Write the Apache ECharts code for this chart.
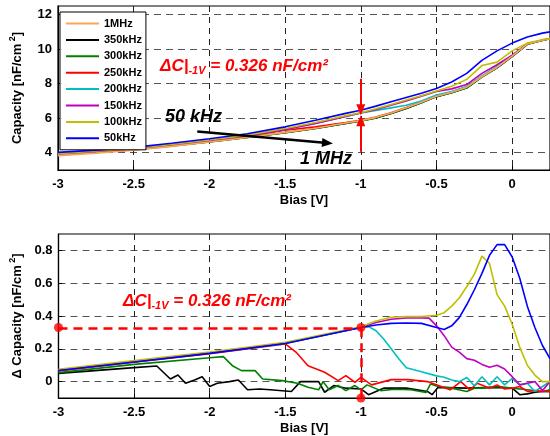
<!DOCTYPE html>
<html><head><meta charset="utf-8">
<script src="https://cdn.jsdelivr.net/npm/echarts@6/dist/echarts.min.js"></script>
<style>html,body{margin:0;padding:0;background:#fff}#c{width:550px;height:436px}</style>
</head><body><div id="c"></div>
<script>
// ---------- DATA ----------
const seriesNames = ['1MHz','350kHz','300kHz','250kHz','200kHz','150kHz','100kHz','50kHz'];
const xTicks = [-3,-2.5,-2,-1.5,-1,-0.5,0];
const yTicksTop = [4,6,8,10,12];
const yTicksBottom = [0,0.2,0.4,0.6,0.8];

// top chart: capacity vs bias
const topBias = [-3,-2.75,-2.5,-2.25,-2,-1.75,-1.5,-1.3,-1.1,-1,-0.9,-0.8,-0.7,-0.6,-0.5,-0.4,-0.3,-0.2,-0.1,0,0.1,0.2,0.25];
const cap1MHz  = [3.83,3.98,4.14,4.37,4.62,4.88,5.18,5.42,5.72,5.86,6.05,6.30,6.60,6.92,7.27,7.50,7.80,8.40,8.95,9.60,10.30,10.52,10.60];
const cap350k  = [3.86,4.01,4.17,4.39,4.63,4.88,5.16,5.40,5.70,5.84,6.02,6.27,6.56,6.90,7.25,7.47,7.76,8.38,8.92,9.57,10.28,10.52,10.60];
const cap300k  = [3.88,4.02,4.18,4.40,4.64,4.88,5.16,5.40,5.70,5.84,6.02,6.27,6.56,6.90,7.25,7.47,7.75,8.38,8.92,9.58,10.28,10.53,10.60];
const cap250k  = [3.90,4.05,4.20,4.42,4.68,4.95,5.30,5.50,5.75,5.88,6.07,6.32,6.62,6.94,7.29,7.52,7.82,8.42,8.97,9.62,10.30,10.52,10.60];
const cap200k  = [3.92,4.07,4.22,4.45,4.70,4.98,5.35,5.70,6.10,6.30,6.45,6.60,6.75,7.00,7.35,7.55,7.83,8.45,9.00,9.62,10.30,10.52,10.60];
const cap150k  = [3.92,4.07,4.22,4.45,4.70,4.98,5.35,5.70,6.10,6.30,6.50,6.75,7.00,7.28,7.55,7.70,7.95,8.60,9.10,9.65,10.30,10.50,10.60];
const cap100k  = [3.95,4.10,4.25,4.48,4.74,5.02,5.40,5.75,6.15,6.32,6.55,6.80,7.05,7.30,7.58,7.85,8.25,9.05,9.25,9.90,10.35,10.55,10.62];
const cap50k   = [4.02,4.15,4.31,4.55,4.81,5.10,5.50,5.88,6.28,6.46,6.70,6.95,7.20,7.45,7.72,8.10,8.60,9.35,9.90,10.35,10.70,10.93,11.00];

// bottom chart: delta capacity vs bias (each series has own bias samples)
const dBias350k = [-3,-2.5,-2.35,-2.26,-2.21,-2.16,-2.1,-2.05,-2.0,-1.95,-1.87,-1.81,-1.75,-1.67,-1.6,-1.46,-1.4,-1.28,-1.24,-1.18,-1.1,-1.0,-0.95,-0.85,-0.7,-0.56,-0.53,-0.49,-0.3,-0.1,0,0.05,0.1,0.15,0.2,0.25];
const dCap350k  = [0.05,0.085,0.095,0.016,0.04,-0.01,0.01,0.03,-0.03,-0.01,0.0,0.01,-0.05,-0.045,-0.05,-0.06,0.0,0.0,-0.065,-0.024,-0.04,-0.045,-0.08,-0.04,-0.04,-0.06,-0.08,-0.035,-0.04,-0.035,-0.04,-0.08,-0.075,-0.065,-0.06,-0.06];
const dBias300k = [-3,-2.5,-2,-1.91,-1.85,-1.79,-1.7,-1.65,-1.52,-1.42,-1.35,-1.28,-1.25,-1.21,-1.15,-1.1,-1.04,-1,-0.96,-0.87,-0.78,-0.67,-0.57,-0.54,-0.49,-0.4,-0.3,-0.25,-0.2,-0.1,0,0.1,0.2,0.25];
const dCap300k  = [0.055,0.105,0.145,0.152,0.097,0.067,0.067,0.016,0.006,-0.01,-0.035,-0.05,0.0,-0.05,-0.024,-0.055,-0.024,-0.05,-0.02,-0.055,-0.047,-0.05,-0.067,-0.014,-0.03,-0.04,-0.06,-0.04,-0.04,-0.03,-0.04,-0.05,-0.06,-0.05];
const dBias250k = [-3,-2.5,-2,-1.5,-1.43,-1.35,-1.24,-1.15,-1.1,-1.04,-1,-0.93,-0.8,-0.69,-0.56,-0.47,-0.41,-0.34,-0.28,-0.23,-0.15,-0.1,-0.05,0,0.05,0.1,0.15,0.2,0.25];
const dCap250k  = [0.065,0.118,0.17,0.23,0.18,0.097,0.057,0.006,0.036,-0.004,0.026,-0.02,0.012,0.012,0.0,-0.03,-0.05,0.0,-0.05,-0.01,-0.04,-0.02,-0.045,-0.04,-0.03,-0.06,-0.055,-0.06,-0.06];
const dBias200k = [-3,-2.5,-2,-1.5,-1,-0.95,-0.9,-0.85,-0.8,-0.75,-0.7,-0.6,-0.5,-0.45,-0.4,-0.35,-0.3,-0.25,-0.2,-0.15,-0.1,-0.05,0,0.05,0.1,0.15,0.2,0.25];
const dCap200k  = [0.07,0.122,0.175,0.232,0.33,0.335,0.31,0.26,0.2,0.14,0.085,0.06,0.035,0.026,0.01,0.0,0.025,-0.025,0.03,-0.02,0.03,-0.02,0.02,-0.02,-0.01,-0.06,-0.03,0.0];
const dBias150k = [-3,-2.5,-2,-1.5,-1,-0.9,-0.8,-0.7,-0.6,-0.55,-0.5,-0.45,-0.4,-0.35,-0.3,-0.25,-0.2,-0.15,-0.1,-0.05,0,0.05,0.1,0.15,0.2,0.25];
const dCap150k  = [0.07,0.122,0.175,0.235,0.33,0.36,0.38,0.388,0.388,0.387,0.34,0.28,0.21,0.18,0.14,0.13,0.105,0.087,0.10,0.077,0.03,-0.02,-0.01,0.0,-0.055,0.0];
const dBias100k = [-3,-2.5,-2,-1.5,-1,-0.9,-0.8,-0.7,-0.6,-0.5,-0.45,-0.4,-0.35,-0.3,-0.25,-0.2,-0.15,-0.1,-0.05,0,0.05,0.1,0.15,0.2,0.25];
const dCap100k  = [0.075,0.128,0.18,0.24,0.335,0.37,0.392,0.397,0.397,0.405,0.42,0.46,0.51,0.58,0.655,0.765,0.72,0.53,0.46,0.35,0.21,0.10,0.04,0.0,0.0];
const dBias50k  = [-3,-2.5,-2,-1.5,-1,-0.9,-0.8,-0.7,-0.6,-0.5,-0.45,-0.4,-0.35,-0.3,-0.25,-0.2,-0.15,-0.1,-0.05,0,0.05,0.1,0.15,0.2,0.25];
const dCap50k   = [0.068,0.12,0.172,0.232,0.33,0.345,0.355,0.357,0.355,0.33,0.318,0.34,0.39,0.47,0.56,0.66,0.77,0.835,0.835,0.76,0.63,0.46,0.33,0.22,0.14];

// annotation values
const deltaAt1V = 0.326;
const arrowTopDown = [[-1, 8.28], [-1, 6.49]];
const arrowTopUp = [[-1, 4.06], [-1, 5.85]];
const freqArrow = [[-2.08, 5.23], [-1.22, 4.56]];
const markerDots = [[-3, 0.33], [-1, 0.33], [-1, -0.1]];
// ---------- END DATA ----------

const colors = {'1MHz':'#F9A65A','350kHz':'#000000','300kHz':'#008000','250kHz':'#FF0000','200kHz':'#00BFBF','150kHz':'#BF00BF','100kHz':'#BFBF00','50kHz':'#0000FF'};
const zip = (a,b) => a.map((v,i)=>[v,b[i]]);
const F = 'Liberation Sans, Arial, sans-serif';

const topData = {'1MHz':cap1MHz,'350kHz':cap350k,'300kHz':cap300k,'250kHz':cap250k,'200kHz':cap200k,'150kHz':cap150k,'100kHz':cap100k,'50kHz':cap50k};
const botData = {
  '350kHz':zip(dBias350k,dCap350k),'300kHz':zip(dBias300k,dCap300k),'250kHz':zip(dBias250k,dCap250k),
  '200kHz':zip(dBias200k,dCap200k),'150kHz':zip(dBias150k,dCap150k),'100kHz':zip(dBias100k,dCap100k),'50kHz':zip(dBias50k,dCap50k)};
const drawOrder = ['350kHz','300kHz','250kHz','200kHz','150kHz','1MHz','100kHz','50kHz'];

function xAxis(idx){
  return {type:'value', gridIndex:idx, min:-3, max:0.25,
    name:'Bias [V]', nameLocation:'middle', nameGap:24,
    nameTextStyle:{fontFamily:F,fontWeight:'bold',fontSize:13,color:'#000'},
    axisLine:{show:true,onZero:false,lineStyle:{color:'#000',width:1.2}},
    axisTick:{show:true,inside:true,length:4,customValues:xTicks,lineStyle:{color:'#000'}},
    axisLabel:{customValues:xTicks,fontFamily:F,fontWeight:'bold',fontSize:13,color:'#000',margin:8},
    splitLine:{show:true,lineStyle:{color:'#222',type:[6,5],width:1}}};
}
function yAxis(idx,min,max,ticks,nameRich){
  return {type:'value', gridIndex:idx, min:min, max:max,
    name:nameRich, nameLocation:'middle', nameGap:32,
    nameTextStyle:{fontFamily:F,fontWeight:'bold',fontSize:13,color:'#000',
      rich:{a:{fontFamily:F,fontWeight:'bold',fontSize:13,color:'#000'},
            s:{fontFamily:F,fontWeight:'bold',fontSize:9,color:'#000',verticalAlign:'bottom',padding:[0,0,9,0]}}},
    axisLine:{show:true,onZero:false,lineStyle:{color:'#000',width:1.2}},
    axisTick:{show:true,inside:true,length:4,customValues:ticks,lineStyle:{color:'#000'}},
    axisLabel:{customValues:ticks,fontFamily:F,fontWeight:'bold',fontSize:13,color:'#000',margin:6},
    splitLine:{show:true,lineStyle:{color:'#555',type:[7,5],width:1}}};
}

const series = [];
drawOrder.forEach(n=>{
  series.push({name:n,type:'line',xAxisIndex:0,yAxisIndex:0,data:zip(topBias,topData[n]),
    symbol:'none',lineStyle:{width:1.6,color:colors[n]},itemStyle:{color:colors[n]},z:3});
});
drawOrder.filter(n=>botData[n]).forEach(n=>{
  series.push({name:n,type:'line',xAxisIndex:1,yAxisIndex:1,data:botData[n],
    symbol:'none',lineStyle:{width:1.6,color:colors[n]},itemStyle:{color:colors[n]},z:3});
});
// annotations top
series.push({name:'annTop',type:'line',xAxisIndex:0,yAxisIndex:0,data:[],silent:true,z:5,
  markLine:{silent:true,animation:false,label:{show:false},symbol:['none','triangle'],symbolSize:[9,11],
    data:[
      [{coord:arrowTopDown[0],lineStyle:{color:'#FF0000',width:2,type:'solid'},itemStyle:{color:'#FF0000'}},{coord:arrowTopDown[1]}],
      [{coord:arrowTopUp[0],lineStyle:{color:'#FF0000',width:2,type:'solid'},itemStyle:{color:'#FF0000'}},{coord:arrowTopUp[1]}],
      [{coord:freqArrow[0],lineStyle:{color:'#000',width:2.5,type:'solid'},itemStyle:{color:'#000'}},{coord:freqArrow[1]}]
    ]}});
// annotations bottom
series.push({name:'annBot',type:'scatter',xAxisIndex:1,yAxisIndex:1,data:markerDots,symbolSize:9,
  itemStyle:{color:'#FF0000'},silent:true,z:6,
  markLine:{silent:true,animation:false,label:{show:false},symbol:['none','none'],
    lineStyle:{color:'#FF0000',width:2.5,type:[9,6]},
    data:[
      [{coord:[-3,deltaAt1V]},{coord:[-1,deltaAt1V]}],
      [{coord:[-1,deltaAt1V]},{coord:[-1,-0.1]}]
    ]}});

const deltaText = (x,y)=>({type:'text',left:x,top:y,z:100,style:{
  text:'{a|ΔC|}{b|-1V}{a| = 0.326 nF/cm²}',
  rich:{a:{fontFamily:F,fontWeight:'bold',fontStyle:'italic',fontSize:17,fill:'#FF0000'},
        b:{fontFamily:F,fontWeight:'bold',fontStyle:'italic',fontSize:11,fill:'#FF0000',verticalAlign:'top',padding:[9,0,0,0]}}}});

const option = {
  animation:false,
  backgroundColor:'#fff',
  grid:[
    {left:55,right:0,top:6,height:164,show:true,borderColor:'#000',borderWidth:1.2,backgroundColor:'transparent'},
    {left:55,right:0,top:234,height:164,show:true,borderColor:'#000',borderWidth:1.2,backgroundColor:'transparent'}
  ],
  xAxis:[xAxis(0),xAxis(1)],
  yAxis:[yAxis(0,3,12.5,yTicksTop,'{a|Capacity [nF/cm}{s| 2}{a|]}'),
         yAxis(1,-0.1,0.9,yTicksBottom,'{a|Δ Capacity [nF/cm}{s| 2}{a|]}')],
  legend:{data:seriesNames,orient:'vertical',left:60,top:12,padding:[6,4,6,6],
    icon:'rect',itemWidth:33,itemHeight:2,itemGap:5.4,backgroundColor:'#fff',borderColor:'#000',borderWidth:1,
    textStyle:{fontFamily:F,fontWeight:'bold',fontSize:11,lineHeight:10,color:'#000'},selectedMode:false},
  graphic:[
    deltaText(160,58),
    deltaText(123,293),
    {type:'text',left:165,top:108,z:100,style:{text:'50 kHz',fontFamily:F,fontWeight:'bold',fontStyle:'italic',fontSize:18,fill:'#000'}},
    {type:'text',left:300,top:150,z:100,style:{text:'1 MHz',fontFamily:F,fontWeight:'bold',fontStyle:'italic',fontSize:18,fill:'#000'}}
  ],
  series:series
};
echarts.init(document.getElementById('c'),null,{renderer:'canvas'}).setOption(option);
</script></body></html>
